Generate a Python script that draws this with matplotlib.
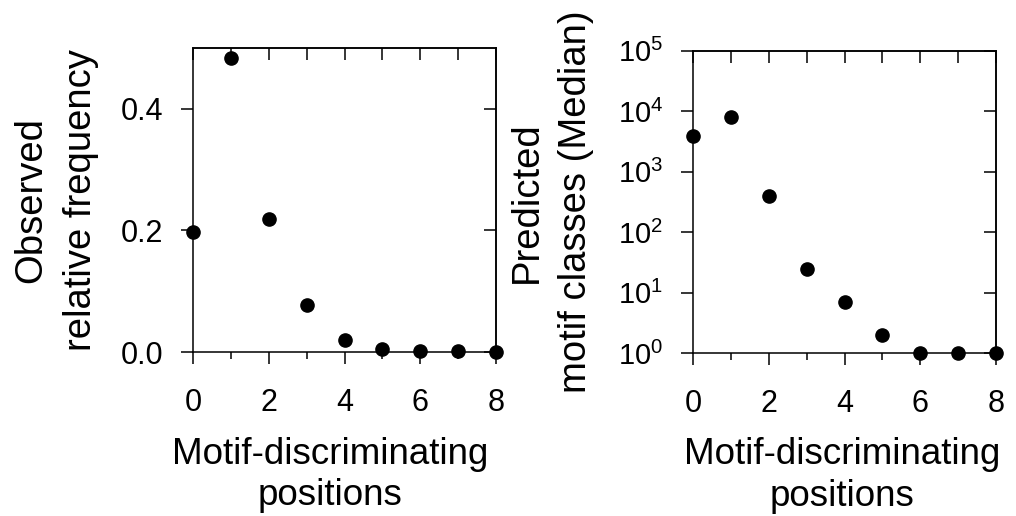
import matplotlib
matplotlib.use("Agg")
import matplotlib.pyplot as plt
from matplotlib.ticker import NullLocator, FixedLocator

plt.rcParams['font.family'] = ['Liberation Sans', 'DejaVu Sans']

positions = [0, 1, 2, 3, 4, 5, 6, 7, 8]
observed_freq = [0.198, 0.483, 0.219, 0.078, 0.019, 0.005, 0.002, 0.001, 0.0005]
predicted_median = [3900, 8000, 400, 25, 7, 2, 1, 1, 1]

x_major = [0, 2, 4, 6, 8]
x_minor = [1, 3, 5, 7]
left_yticks = [0.0, 0.2, 0.4]
left_yticklabels = ["0.0", "0.2", "0.4"]
right_yticks = [1, 10, 100, 1000, 10000, 100000]
right_yticklabels = [r"$\mathregular{10^{%d}}$" % i for i in range(6)]

W, H = 1016, 516
fig = plt.figure(figsize=(W / 100, H / 100), dpi=100)

TICK_FS = 22
LOG_TICK_FS = 21
XLABEL_FS = 26.5
YLABEL_FS = 27.5
TL = 8.6
TLm = 5.0
LW = 1.1


def px_axes(x0, y0, x1, y1):
    return fig.add_axes([x0 / W, 1 - y1 / H, (x1 - x0) / W, (y1 - y0) / H])


def style(ax, yticks, yticklabels, yfs):
    for s in ax.spines.values():
        s.set_linewidth(LW)
    ax.set_xlim(0, 8)
    ax.xaxis.set_major_locator(FixedLocator(x_major))
    ax.xaxis.set_minor_locator(FixedLocator(x_minor))
    ax.set_xticklabels([str(v) for v in x_major])
    ax.set_yticks(yticks)
    ax.set_yticklabels(yticklabels)
    ax.yaxis.set_minor_locator(NullLocator())
    ax.tick_params(axis='both', which='major', direction='out', length=TL, width=LW,
                   top=False, right=False)
    ax.tick_params(axis='x', which='major', labelsize=TICK_FS, pad=17)
    ax.tick_params(axis='y', which='major', labelsize=yfs, pad=13)
    ax.tick_params(axis='x', which='minor', direction='out', length=TLm, width=LW,
                   top=False)
    ax.tick_params(axis='y', which='minor', left=False, right=False)
    # mirrored inward ticks on top and right
    sx = ax.secondary_xaxis('top')
    sx.set_xticks(positions)
    sx.tick_params(direction='in', length=TL, width=LW, labeltop=False)
    sx.xaxis.set_minor_locator(NullLocator())
    sx.spines['top'].set_linewidth(LW)
    sy = ax.secondary_yaxis('right')
    sy.set_yticks(yticks)
    sy.tick_params(direction='in', length=TL, width=LW, labelright=False)
    sy.yaxis.set_minor_locator(NullLocator())
    sy.spines['right'].set_linewidth(LW)


# Left panel
ax1 = px_axes(193, 48, 496, 352)
ax1.set_ylim(0, 0.5)
ax1.plot(positions, observed_freq, 'o', color='black', markersize=9.5,
         clip_on=False, zorder=5)
style(ax1, left_yticks, left_yticklabels, TICK_FS)
ax1.set_xlabel("Motif-discriminating\npositions", fontsize=XLABEL_FS, linespacing=1.24)
ax1.xaxis.set_label_coords((330 - 193) / 303, -0.278)
ax1.xaxis.label.set_va('top')
ax1.set_ylabel("Observed\nrelative frequency", fontsize=YLABEL_FS, linespacing=1.5)

# Right panel
ax2 = px_axes(693, 50.7, 996, 353.3)
ax2.set_yscale('log')
ax2.set_ylim(1, 1e5)
ax2.plot(positions, predicted_median, 'o', color='black', markersize=9.5,
         clip_on=False, zorder=5)
style(ax2, right_yticks, right_yticklabels, LOG_TICK_FS)
ax2.set_xlabel("Motif-discriminating\npositions", fontsize=XLABEL_FS, linespacing=1.24)
ax2.xaxis.set_label_coords((842 - 693) / 303, -0.278)
ax2.xaxis.label.set_va('top')
ax2.set_ylabel("Predicted\nmotif classes (Median)", fontsize=YLABEL_FS, linespacing=1.5)

ax1.yaxis.set_label_coords((56 - 193) / 303, 0.5)
ax2.yaxis.set_label_coords((551.5 - 693) / 303, 0.5)
ax1.yaxis.label.set_va('center')
ax2.yaxis.label.set_va('center')

fig.savefig("out.png", dpi=100)
